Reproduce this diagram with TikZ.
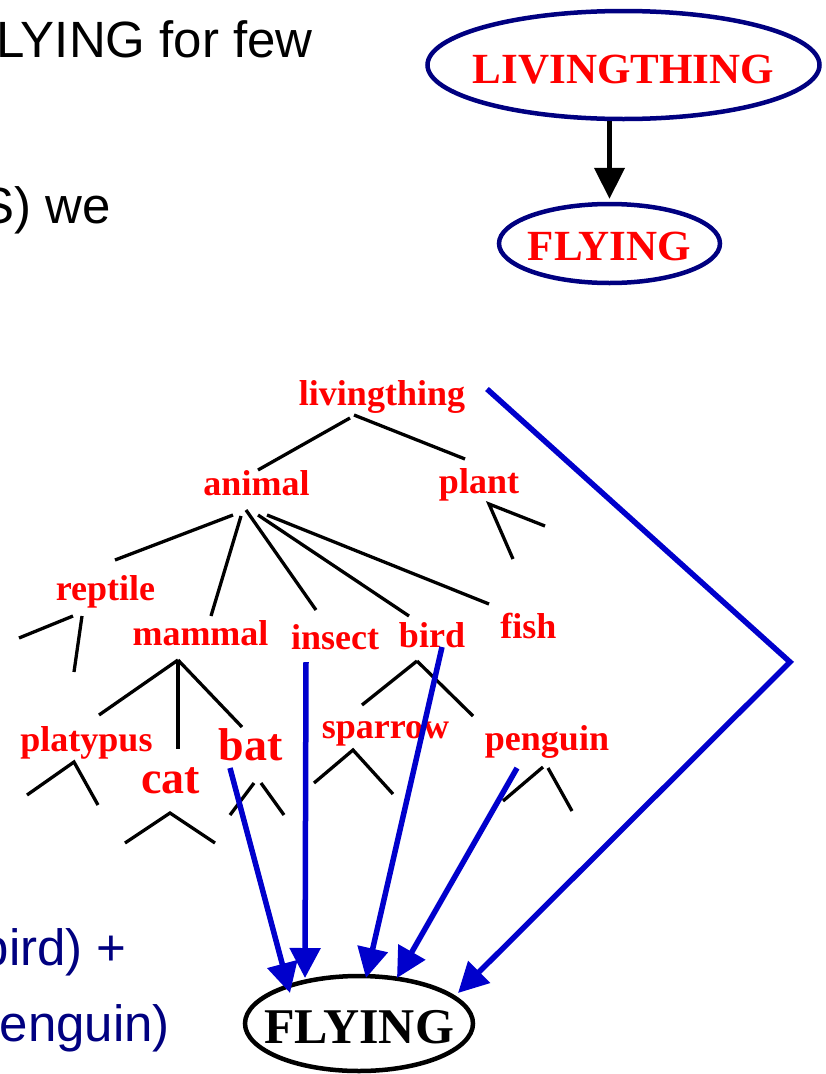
\documentclass[tikz,border=0pt]{standalone}
\usepackage{fontspec}
\setmainfont{Liberation Serif}
\newfontfamily\arialfont{Liberation Sans}
\usetikzlibrary{arrows.meta,shapes.geometric}
\definecolor{lblred}{HTML}{FF0000}
\definecolor{navyline}{HTML}{000080}
\definecolor{arrowblue}{HTML}{0000CC}

\begin{document}
\begin{tikzpicture}[x=1pt,y=-1pt,
  lbl/.style={inner sep=0pt, anchor=base, text=lblred,
    font=\fontsize{36}{40}\selectfont\bfseries},
  biglbl/.style={lbl, font=\fontsize{46}{50}\selectfont\bfseries},
  branch/.style={draw=black, line width=3.3pt},
  flyarrow/.style={draw=arrowblue, line width=5.5pt,
    -{Triangle[length=30pt,width=30pt]}},
  slide/.style={inner sep=0pt, anchor=base east,
    font=\arialfont\fontsize{51}{55}\selectfont},
  concept/.style={ellipse, draw=navyline, line width=4.5pt, inner sep=0pt,
    text=lblred, text depth=0pt, font=\fontsize{43}{46}\selectfont\bfseries},
]
\useasboundingbox (0,0) rectangle (826,1074);
\clip (0,0) rectangle (826,1074);

% ---- running text of the slide ----
\node[slide] (t1) at (313,57) {LYING for few};
\node[slide] (t2) at (111,223) {S) we};
\node[slide, text=navyline] (t3) at (127,965) {bird) +};
\node[slide, text=navyline] (t4) at (170,1041) {enguin)};

% ---- two-node network ----
\node[concept, minimum width=392pt, minimum height=108pt, text height=36pt]
  (LT) at (623.5,65) {\makebox[0pt]{LIVINGTHING}};
\node[concept, minimum width=221pt, minimum height=79pt, text height=33pt]
  (FT) at (609.5,243.5) {\makebox[0pt]{FLYING}};
\draw[line width=4.5pt, -{Triangle[length=31pt,width=30pt]}]
  (LT.south -| FT.north) -- ([yshift=3pt]FT.north);

% ---- taxonomy labels ----
\node[lbl] (living)   at (382,405)   {livingthing};
\node[lbl] (animal)   at (256.5,495) {animal};
\node[lbl] (plant)    at (479,493)   {plant};
\node[lbl] (reptile)  at (105.5,600) {reptile};
\node[lbl] (mammal)   at (200.5,645) {mammal};
\node[lbl] (insect)   at (335,649)   {insect};
\node[lbl] (bird)     at (432,647)   {bird};
\node[lbl] (fish)     at (528.5,638) {fish};
\node[lbl] (platypus) at (86.5,751)  {platypus};
\node[biglbl] (bat)   at (250.5,760) {bat};
\node[biglbl] (cat)   at (170.5,793) {cat};
\node[lbl] (sparrow)  at (385.5,738) {sparrow};
\node[lbl] (penguin)  at (547,750)   {penguin};

% ---- branch end points ----
\coordinate (living-l) at (350,418);  \coordinate (animal-top) at (258,470);
\coordinate (living-r) at (354,415);  \coordinate (plant-top)  at (465,459);
\coordinate (animal-1) at (233,515);  \coordinate (reptile-top) at (115,560);
\coordinate (animal-2) at (241,516);  \coordinate (mammal-top) at (211,616);
\coordinate (animal-3) at (246,510);  \coordinate (insect-top) at (316,610);
\coordinate (animal-4) at (258,515);  \coordinate (bird-top)   at (409,616);
\coordinate (animal-5) at (267,515);  \coordinate (fish-top)   at (489,604);
\coordinate (mammal-fork)   at (178,660);
\coordinate (platypus-top)  at (99,715);
\coordinate (cat-top)       at (178,749);
\coordinate (bat-top)       at (242,727);
\coordinate (bird-fork)     at (417,661);
\coordinate (sparrow-top)   at (362,705);
\coordinate (penguin-top)   at (473,716);

% ---- taxonomy branches ----
\draw[branch] (living-l) -- (animal-top);
\draw[branch] (living-r) -- (plant-top);
\draw[branch] (animal-1) -- (reptile-top);
\draw[branch] (animal-2) -- (mammal-top);
\draw[branch] (animal-3) -- (insect-top);
\draw[branch] (animal-4) -- (bird-top);
\draw[branch] (animal-5) -- (fish-top);
\draw[branch] (mammal-fork) -- (platypus-top);
\draw[branch] (mammal-fork) -- (cat-top);
\draw[branch] (mammal-fork) -- (bat-top);
\draw[branch] (bird-fork) -- (sparrow-top);
\draw[branch] (bird-fork) -- (penguin-top);

% ---- open sub-branches (children not shown) ----
\draw[branch] (73,616) -- (19,638);   \draw[branch] (82,616) -- (74,672);
\draw[branch] (513,559) -- (489,504) -- (545,526);
\draw[branch] (27,795) -- (74,762) -- (98,805);
\draw[branch] (125,843) -- (170,813) -- (215,843);
\draw[branch] (254,783) -- (230,815); \draw[branch] (261,783) -- (284,815);
\draw[branch] (314,783) -- (353,750) -- (393,794);
\draw[branch] (543,767) -- (503,801); \draw[branch] (548,768) -- (572,811);

% ---- target node ----
\node[ellipse, draw=black, line width=4.5pt, inner sep=0pt, text depth=0pt,
  text height=39.6pt, minimum width=228pt, minimum height=95pt,
  font=\fontsize{50}{54}\selectfont\bfseries]
  (FB) at (359,1023.5) {\makebox[0pt]{FLYING}};

% ---- arrow ends ----
\coordinate (living-src) at (487,389);
\coordinate (living-bend) at (790,662);
\coordinate (bat-src) at (230,768);
\coordinate (insect-src) at (306,662);
\coordinate (bird-src) at (442,647);
\coordinate (penguin-src) at (517,768);
\coordinate (tip-living) at (458,993);
\coordinate (tip-bat) at (290,993);
\coordinate (tip-insect) at (305,978);
\coordinate (tip-bird) at (366,978);
\coordinate (tip-penguin) at (397,978);

% ---- influence arrows ----
\draw[flyarrow] (living-src) -- (living-bend) -- (tip-living);
\draw[flyarrow] (bat-src) -- (tip-bat);
\draw[flyarrow] (insect-src) -- (tip-insect);
\draw[flyarrow] (bird-src) -- (tip-bird);
\draw[flyarrow] (penguin-src) -- (tip-penguin);
\end{tikzpicture}
\end{document}
